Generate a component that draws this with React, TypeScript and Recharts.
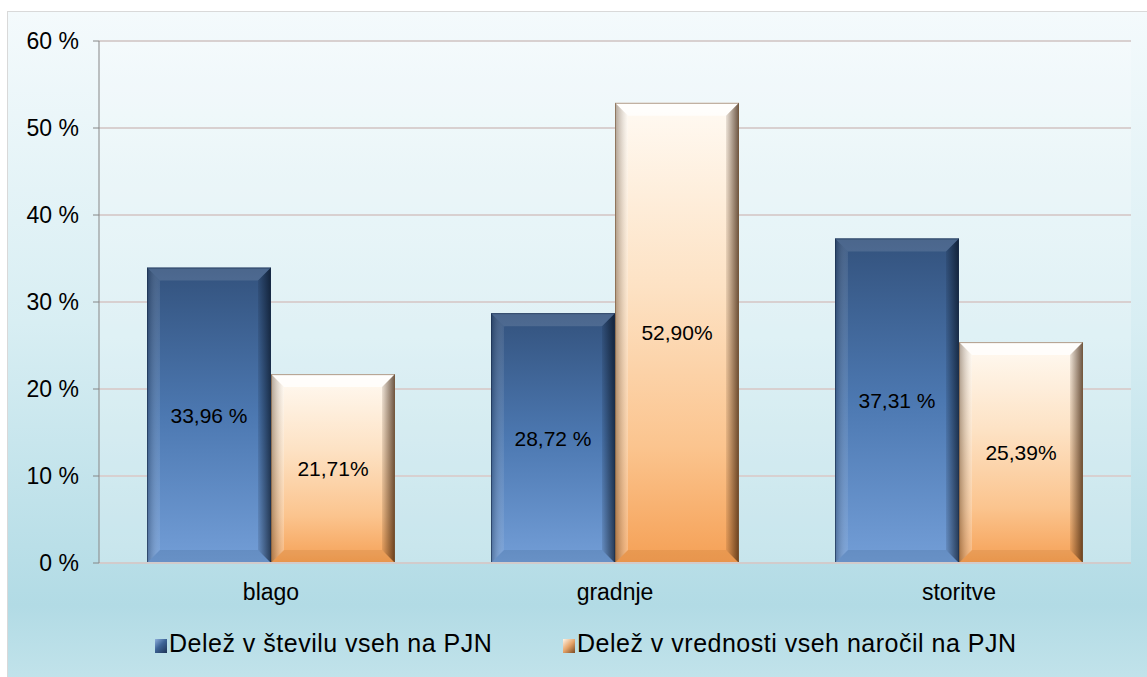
import React from "react";
import { Bar, BarChart, CartesianGrid, LabelList, XAxis, YAxis } from "recharts";

const categories = ["blago", "gradnje", "storitve"];
const countShare = [33.96, 28.72, 37.31];
const valueShare = [21.71, 52.9, 25.39];
const countLabels = ["33,96 %", "28,72 %", "37,31 %"];
const valueLabels = ["21,71%", "52,90%", "25,39%"];
const yTicks = [0, 10, 20, 30, 40, 50, 60];
const legendNames = ["Delež v številu vseh na PJN", "Delež v vrednosti vseh naročil na PJN"];

const data = categories.map((name, i) => ({
  name,
  count: countShare[i],
  value: valueShare[i],
  countLabel: countLabels[i],
  valueLabel: valueLabels[i],
}));

const FONT = "'Liberation Sans', Arial, sans-serif";

type BevelProps = {
  x?: number;
  y?: number;
  width?: number;
  height?: number;
  kind: "blue" | "orange";
};

function BevelBar({ x = 0, y = 0, width = 0, height = 0, kind }: BevelProps) {
  if (height <= 0) return null;
  const b = Math.min(13, width / 3, height / 3);
  const r = x + width;
  const btm = y + height;
  const blue = kind === "blue";
  return (
    <g>
      <rect x={x} y={y} width={width} height={height} fill={`url(#face-${kind})`} />
      <polygon
        points={`${x},${y} ${r},${y} ${r - b},${y + b} ${x + b},${y + b}`}
        fill="#ffffff"
        fillOpacity={blue ? 0.12 : 0.75}
      />
      <polygon
        points={`${x},${y} ${x + b},${y + b} ${x + b},${btm - b} ${x},${btm}`}
        fill={`url(#left-${kind})`}
      />
      <polygon
        points={`${r},${y} ${r},${btm} ${r - b},${btm - b} ${r - b},${y + b}`}
        fill={`url(#right-${kind})`}
      />
      <polygon
        points={`${x},${btm} ${r},${btm} ${r - b},${btm - b} ${x + b},${btm - b}`}
        fill={blue ? "#0a1a30" : "#7a3a00"}
        fillOpacity={blue ? 0.1 : 0.1}
      />
      <rect
        x={x + 0.5}
        y={y + 0.5}
        width={width - 1}
        height={height - 1}
        fill="none"
        stroke={blue ? "#1b2f4c" : "#7a5a3c"}
        strokeOpacity={0.6}
      />
    </g>
  );
}

function LegendItem({ kind, label, left }: { kind: "blue" | "orange"; label: string; left: number }) {
  const bg =
    kind === "blue"
      ? "linear-gradient(135deg, #8fb0dc 0%, #3d6496 45%, #1d3355 100%)"
      : "linear-gradient(135deg, #fff6ea 0%, #e6a469 50%, #7a4a22 100%)";
  return (
    <div
      style={{
        position: "absolute",
        left,
        top: 631,
        display: "flex",
        alignItems: "center",
        fontFamily: FONT,
        fontSize: 25,
        lineHeight: "25px",
        letterSpacing: 0.5,
        color: "#000",
        whiteSpace: "nowrap",
      }}
    >
      <span style={{ display: "inline-block", width: 12, height: 14, marginRight: 2, marginTop: 4, background: bg }} />
      {label}
    </div>
  );
}

export default function App() {
  return (
    <div style={{ position: "absolute", left: 0, top: 0, width: 1147, height: 677, overflow: "hidden", background: "#fff" }}>
      <div
        style={{
          position: "absolute",
          left: 7,
          top: 11,
          width: 1160,
          height: 690,
          border: "1px solid #d9d9d9",
          background:
            "linear-gradient(180deg, #f4fafc 0%, #d8eef3 45%, #b2dbe5 86%, #c6e5ec 100%)",
        }}
      />
      <div style={{ position: "absolute", left: 0, top: 0 }}>
        <BarChart
          width={1147}
          height={677}
          data={data}
          margin={{ top: 41, right: 16, left: 0, bottom: 0 }}
          barCategoryGap={48}
          barGap={0}
        >
          <defs>
            <linearGradient id="face-blue" x1="0" y1="0" x2="0" y2="1">
              <stop offset="0%" stopColor="#33527d" />
              <stop offset="50%" stopColor="#4c78b1" />
              <stop offset="100%" stopColor="#739ed7" />
            </linearGradient>
            <linearGradient id="face-orange" x1="0" y1="0" x2="0" y2="1">
              <stop offset="0%" stopColor="#fffaf3" />
              <stop offset="40%" stopColor="#fde2c4" />
              <stop offset="75%" stopColor="#fbc48e" />
              <stop offset="100%" stopColor="#f5a055" />
            </linearGradient>
            <linearGradient id="left-blue" x1="0" y1="0" x2="1" y2="0">
              <stop offset="0%" stopColor="#0b1a30" stopOpacity={0.35} />
              <stop offset="100%" stopColor="#ffffff" stopOpacity={0.08} />
            </linearGradient>
            <linearGradient id="left-orange" x1="0" y1="0" x2="1" y2="0">
              <stop offset="0%" stopColor="#4a3522" stopOpacity={0.45} />
              <stop offset="100%" stopColor="#ffffff" stopOpacity={0.25} />
            </linearGradient>
            <linearGradient id="right-blue" x1="0" y1="0" x2="1" y2="0">
              <stop offset="0%" stopColor="#000814" stopOpacity={0.1} />
              <stop offset="100%" stopColor="#000814" stopOpacity={0.65} />
            </linearGradient>
            <linearGradient id="right-orange" x1="0" y1="0" x2="1" y2="0">
              <stop offset="0%" stopColor="#3a1e08" stopOpacity={0.1} />
              <stop offset="100%" stopColor="#3a1e08" stopOpacity={0.75} />
            </linearGradient>
          </defs>
          <CartesianGrid
            vertical={false}
            stroke="#d8d0d0"
            strokeWidth={2}
            fill="#ffffff"
            fillOpacity={0.22}
          />
          <XAxis
            dataKey="name"
            height={114}
            tickLine={false}
            tickMargin={15}
            axisLine={{ stroke: "#d2cbcb", strokeWidth: 2 }}
            tick={{ fill: "#000", fontSize: 23, fontFamily: FONT }}
          />
          <YAxis
            width={99}
            domain={[0, 60]}
            ticks={yTicks}
            tickFormatter={(v: number) => `${v} %`}
            tickSize={6}
            tickMargin={14}
            axisLine={{ stroke: "#868686" }}
            tickLine={{ stroke: "#868686" }}
            tick={{ fill: "#000", fontSize: 23, fontFamily: FONT }}
          />
          <Bar
            dataKey="count"
            isAnimationActive={false}
            shape={(p: any) => <BevelBar {...p} kind="blue" />}
          >
            <LabelList dataKey="countLabel" position="center" fill="#000" fontSize={21} fontFamily={FONT} />
          </Bar>
          <Bar
            dataKey="value"
            isAnimationActive={false}
            shape={(p: any) => <BevelBar {...p} kind="orange" />}
          >
            <LabelList dataKey="valueLabel" position="center" fill="#000" fontSize={21} fontFamily={FONT} />
          </Bar>
        </BarChart>
      </div>
      <LegendItem kind="blue" label={legendNames[0]} left={155} />
      <LegendItem kind="orange" label={legendNames[1]} left={563} />
    </div>
  );
}
